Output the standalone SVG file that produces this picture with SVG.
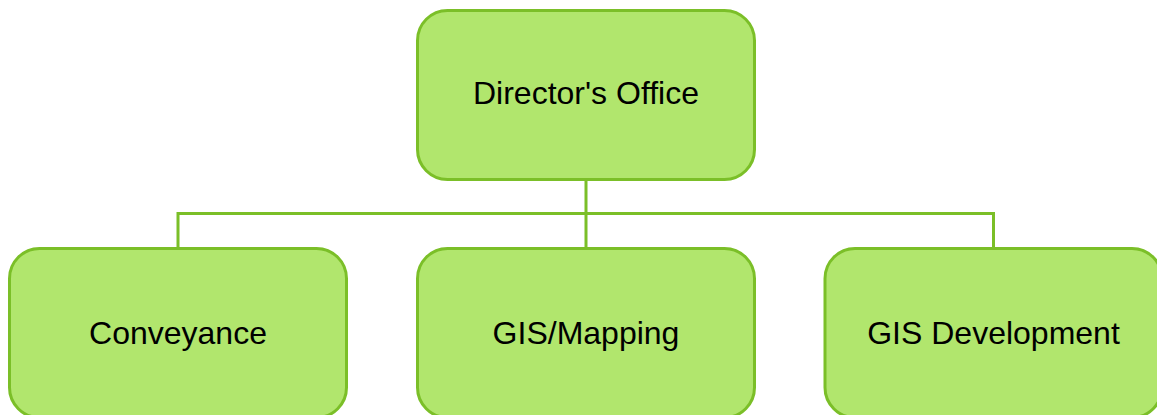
<svg xmlns="http://www.w3.org/2000/svg" width="1157" height="415" viewBox="0 0 1157 415">
<style>
.box{fill:#b1e66d;stroke:#7bbf28;stroke-width:3}
.lbl{font-family:"Liberation Sans",Arial,sans-serif;font-size:32px;fill:#000;text-anchor:middle}
.conn{fill:none;stroke:#7bbf28;stroke-width:3}
</style>
<rect width="1157" height="415" fill="#fff"/>
<g id="connectors">
<path class="conn" d="M586 179.5V213.5M178 248V213.5H993.5V248M586 213.5V248"/>
</g>
<g id="director"><rect class="box" x="417.5" y="10.5" width="337" height="169" rx="30"/><text class="lbl" x="586" y="103.5">Director's Office</text></g>
<g id="conveyance"><rect class="box" x="9.5" y="248.5" width="337" height="169" rx="30"/><text class="lbl" x="178" y="344">Conveyance</text></g>
<g id="gismapping"><rect class="box" x="417.5" y="248.5" width="337" height="169" rx="30"/><text class="lbl" x="586" y="344">GIS/Mapping</text></g>
<g id="gisdev"><rect class="box" x="825" y="248.5" width="337" height="169" rx="30"/><text class="lbl" x="993.5" y="344">GIS Development</text></g>
</svg>
